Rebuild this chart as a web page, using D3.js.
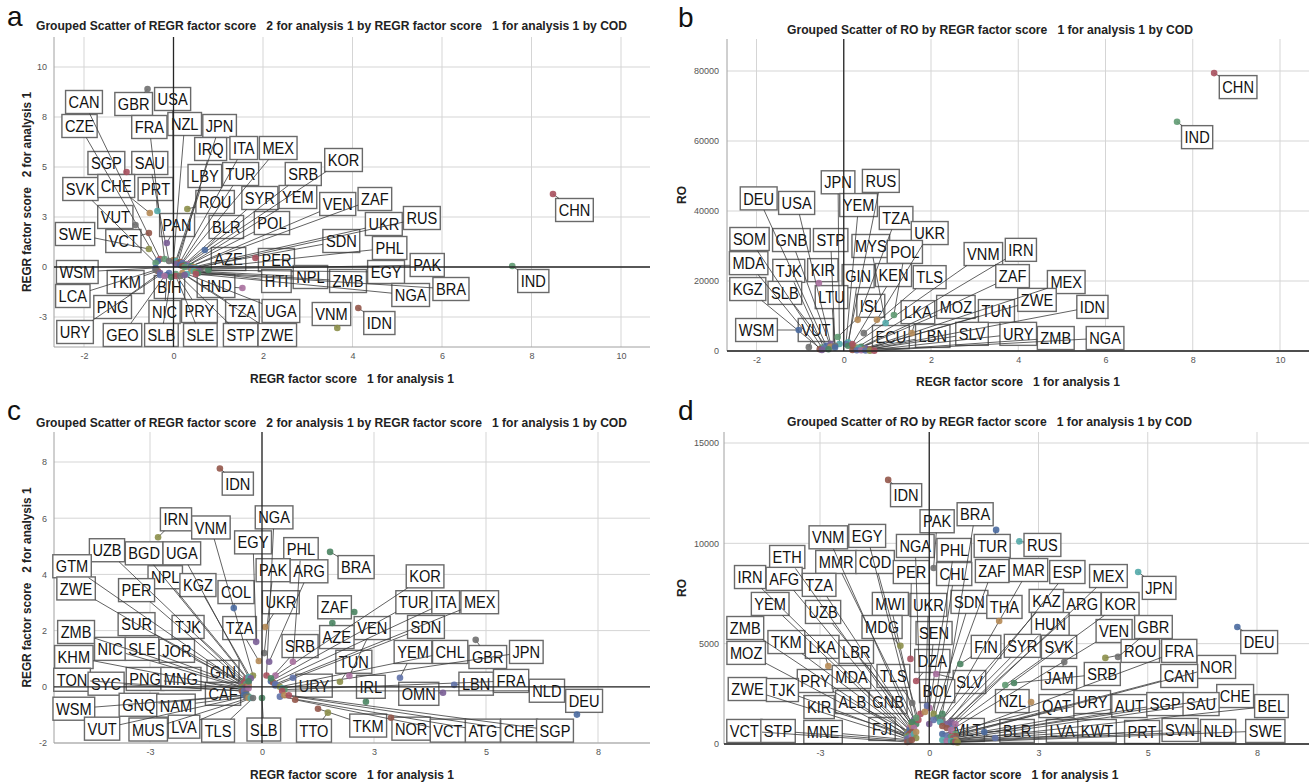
<!DOCTYPE html>
<html>
<head>
<meta charset="utf-8">
<script src="https://cdn.jsdelivr.net/npm/d3@7"></script>
<style>
body { margin: 0; background: #fff; }
svg { display: block; font-family: "Liberation Sans", Arial, sans-serif; }
</style>
</head>
<body>
<svg id="chart" width="1312" height="783"></svg>
<script>

// Titles

var titleFactor = 'Grouped Scatter of REGR factor score   2 for analysis 1 by REGR factor score   1 for analysis 1 by COD';
var titleRO = 'Grouped Scatter of RO by REGR factor score   1 for analysis 1 by COD';
var xTitle = 'REGR factor score   1 for analysis 1';
var yTitleFactor = 'REGR factor score   2 for analysis 1';
var yTitleRO = 'RO';

// Ticks

var xTicksA = [-2, 0, 2, 4, 6, 8, 10];
var xTickTextA = ['-2', '0', '2', '4', '6', '8', '10'];
var yTicksA = [-2.5, 0, 2.5, 5, 7.5, 10];
var yTickTextA = ['-3', '0', '3', '5', '8', '10'];

var xTicksB = [-2, 0, 2, 4, 6, 8, 10];
var xTickTextB = ['-2', '0', '2', '4', '6', '8', '10'];
var yTicksB = [0, 20000, 40000, 60000, 80000];
var yTickTextB = ['0', '20000', '40000', '60000', '80000'];

var xTicksC = [-2.5, 0, 2.5, 5, 7.5];
var xTickTextC = ['-3', '0', '3', '5', '8'];
var yTicksC = [-2, 0, 2, 4, 6, 8];
var yTickTextC = ['-2', '0', '2', '4', '6', '8'];

var xTicksD = [-2.5, 0, 2.5, 5, 7.5];
var xTickTextD = ['-3', '0', '3', '5', '8'];
var yTicksD = [0, 5000, 10000, 15000];
var yTickTextD = ['0', '5000', '10000', '15000'];

// Panel a: COD, factor score 1, factor score 2

var ptsA = [
	['CAN',-0.3,0.4],['GBR',-0.58,8.9],['USA',0.0,0.3],['CZE',-0.35,0.3],['FRA',-0.2,0.4],
	['NZL',0.0,0.35],['JPN',0.05,0.3],['IRQ',0.1,0.2],['ITA',0.15,0.25],['MEX',0.2,0.2],
	['KOR',0.3,0.15],['SRB',0.25,0.1],['SGP',-1.05,4.75],['SAU',-0.1,0.3],['LBY',0.05,0.15],
	['TUR',0.15,0.1],['SVK',-0.4,0.2],['CHE',-0.53,2.7],['PRT',-0.36,2.8],['ROU',0.31,2.9],
	['SYR',0.2,0.05],['YEM',0.3,0.05],['VEN',0.35,0.0],['ZAF',0.4,0.05],['CHN',8.48,3.65],
	['VUT',-0.85,2.1],['PAN',-0.15,1.2],['BLR',0.7,0.85],['POL',0.25,0.0],['UKR',0.45,0.0],
	['RUS',0.5,-0.05],['SWE',-0.55,0.9],['VCT',-0.55,1.7],['SDN',0.4,-0.05],['PHL',0.5,-0.1],
	['AZE',0.78,-0.15],['PER',1.83,0.45],['PAK',0.6,-0.1],['EGY',0.55,-0.15],['WSM',-0.4,-0.05],
	['IND',7.57,0.05],['HTI',0.4,-0.2],['NPL',0.45,-0.2],['ZMB',0.5,-0.25],['TKM',-0.35,-0.2],
	['BIH',-0.1,-0.3],['HND',1.54,-1.05],['BRA',0.55,-0.3],['NGA',0.5,-0.35],['LCA',-0.4,-0.15],
	['PNG',-0.3,-0.3],['NIC',-0.15,-0.4],['PRY',0.05,-0.35],['TZA',0.2,-0.3],['UGA',0.3,-0.35],
	['VNM',3.66,-3.05],['IDN',4.13,-2.05],['URY',-0.3,-0.4],['GEO',-0.2,-0.45],['SLB',-0.05,-0.5],
	['SLE',0.05,-0.45],['STP',0.15,-0.45],['ZWE',0.25,-0.4]
];

// where each label box sits (data units)
var labA = [
	['CAN',-2.0,8.25],['GBR',-0.89,8.15],['USA',-0.02,8.4],['CZE',-2.1,7.05],['FRA',-0.54,7.0],
	['NZL',0.25,7.15],['JPN',1.03,7.05],['IRQ',0.83,5.9],['ITA',1.57,5.95],['MEX',2.34,5.95],
	['KOR',3.8,5.35],['SRB',2.9,4.65],['SGP',-1.5,5.2],['SAU',-0.53,5.2],['LBY',0.7,4.55],
	['TUR',1.5,4.65],['SVK',-2.08,3.9],['CHE',-1.28,4.05],['PRT',-0.4,3.9],['ROU',0.93,3.25],
	['SYR',1.93,3.45],['YEM',2.78,3.5],['VEN',3.67,3.15],['ZAF',4.5,3.4],['CHN',8.96,2.85],
	['VUT',-1.3,2.5],['PAN',0.08,2.1],['BLR',1.18,2.0],['POL',2.2,2.2],['UKR',4.7,2.15],
	['RUS',5.55,2.45],['SWE',-2.2,1.65],['VCT',-1.12,1.3],['SDN',3.75,1.3],['PHL',4.83,0.95],
	['AZE',1.23,0.4],['PER',2.3,0.35],['PAK',5.67,0.1],['EGY',4.75,-0.25],['WSM',-2.15,-0.25],
	['IND',8.04,-0.7],['HTI',2.3,-0.7],['NPL',3.06,-0.5],['ZMB',3.9,-0.7],['TKM',-1.07,-0.75],
	['BIH',-0.09,-1.0],['HND',0.95,-0.95],['BRA',6.2,-1.1],['NGA',5.3,-1.4],['LCA',-2.25,-1.45],
	['PNG',-1.36,-2.0],['NIC',-0.2,-2.25],['PRY',0.58,-2.2],['TZA',1.54,-2.2],['UGA',2.4,-2.2],
	['VNM',3.53,-2.35],['IDN',4.6,-2.8],['URY',-2.2,-3.25],['GEO',-1.14,-3.4],['SLB',-0.27,-3.4],
	['SLE',0.6,-3.4],['STP',1.5,-3.4],['ZWE',2.32,-3.4]
];

// Panel b: COD, factor score 1, RO

var ptsB = [
	['CHN',8.49,79400],['IND',7.64,65500],['JPN',-0.1,2000],['RUS',0.1,2500],['DEU',-0.4,1500],
	['USA',-0.3,2000],['YEM',0.05,2000],['TZA',0.32,8900],['UKR',0.76,8900],['SOM',-0.5,1000],
	['GNB',-0.3,1200],['STP',-0.2,1500],['MYS',0.96,8000],['POL',1.15,10300],['VNM',0.2,1500],
	['IRN',0.3,1000],['MDA',-0.55,500],['TJK',-0.45,800],['KIR',-0.57,19400],['GIN',0.1,1500],
	['KEN',0.2,2000],['TLS',0.46,5100],['ZAF',0.4,1200],['MEX',0.5,800],['KGZ',-0.5,300],
	['SLB',-0.35,500],['LTU',-0.2,1000],['ZWE',0.5,600],['IDN',0.6,500],['ISL',-0.14,4000],
	['LKA',1.56,5100],['MOZ',0.35,800],['TUN',0.45,400],['WSM',-1.03,6000],['VUT',-0.8,1100],
	['ECU',0.2,300],['LBN',0.3,200],['SLV',0.4,200],['URY',0.5,150],['ZMB',0.6,100],['NGA',0.7,100]
];

var labB = [
	['CHN',9.04,75400],['IND',8.1,61100],['JPN',-0.13,48200],['RUS',0.85,48600],['DEU',-1.95,43600],
	['USA',-1.08,42300],['YEM',0.34,41700],['TZA',1.2,38000],['UKR',1.97,33700],['SOM',-2.16,32000],
	['GNB',-1.2,31700],['STP',-0.3,31700],['MYS',0.62,30000],['POL',1.4,28300],['VNM',3.2,27700],
	['IRN',4.06,28900],['MDA',-2.18,25100],['TJK',-1.26,22900],['KIR',-0.48,23100],['GIN',0.33,21400],
	['KEN',1.14,21700],['TLS',1.97,21100],['ZAF',3.87,21400],['MEX',5.1,19700],['KGZ',-2.2,17700],
	['SLB',-1.35,16600],['LTU',-0.28,15400],['ZWE',4.43,14600],['IDN',5.7,12600],['ISL',0.62,12900],
	['LKA',1.7,11100],['MOZ',2.57,12600],['TUN',3.5,11400],['WSM',-2.0,6000],['VUT',-0.64,6000],
	['ECU',1.08,4000],['LBN',2.04,4300],['SLV',2.94,4900],['URY',4.0,4900],['ZMB',4.86,3700],['NGA',5.99,3700]
];

// Panel c: COD, factor score 1, factor score 2

var ptsC = [
	['IDN',-0.94,7.77],['IRN',-2.32,5.32],['VNM',-0.2,0.4],['NGA',0.1,0.4],['EGY',-0.13,1.6],
	['UZB',-0.4,0.2],['BGD',-0.35,0.3],['UGA',-0.3,0.35],['PHL',0.69,0.89],['BRA',1.52,4.8],
	['GTM',-0.45,0.1],['PAK',0.05,1.2],['ARG',0.16,0.89],['KOR',0.3,0.4],['NPL',-0.3,0.25],
	['KGZ',-0.25,0.3],['ZWE',-0.45,0.05],['PER',-0.4,0.15],['COL',-0.63,2.8],['UKR',0.07,2.13],
	['ZAF',2.06,2.66],['TUR',0.2,0.2],['ITA',0.25,0.15],['MEX',0.3,0.1],['SUR',-0.35,0.1],
	['TJK',-0.3,0.15],['TZA',-0.07,0.92],['ZMB',-0.45,0.0],['VEN',1.95,0.39],['SDN',0.3,0.05],
	['AZE',1.57,2.27],['SRB',0.2,0.3],['NIC',-0.4,-0.05],['SLE',-0.35,0.0],['JOR',-0.3,0.05],
	['KHM',-0.45,-0.1],['YEM',3.08,0.32],['CHL',0.4,0.0],['GBR',4.77,1.67],['JPN',0.45,-0.05],
	['TUN',1.74,0.18],['GIN',-0.3,0.2],['TON',-0.45,-0.15],['SYC',-0.4,-0.15],['PNG',-0.35,-0.1],
	['MNG',-0.3,-0.05],['URY',0.69,0.32],['IRL',2.32,-0.53],['LBN',4.29,0.07],['FRA',0.5,-0.1],
	['NLD',0.45,-0.15],['CAF',-0.35,-0.25],['OMN',4.04,-0.21],['DEU',7.03,-0.99],['WSM',-0.4,-0.3],
	['GNQ',-0.35,-0.3],['NAM',-0.3,-0.35],['VUT',-0.35,-0.35],['MUS',-0.3,-0.4],['LVA',-0.25,-0.4],
	['TLS',-0.2,-0.4],['SLB',0.0,-0.4],['TTO',1.47,-0.92],['TKM',1.25,-0.78],['NOR',2.88,-1.1],
	['VCT',0.74,-0.46],['ATG',0.4,-0.35],['CHE',0.5,-0.3],['SGP',0.6,-0.3]
];

var labC = [
	['IDN',-0.54,7.23],['IRN',-1.92,5.96],['VNM',-1.14,5.67],['NGA',0.27,6.03],['EGY',-0.2,5.14],
	['UZB',-3.46,4.86],['BGD',-2.63,4.75],['UGA',-1.79,4.75],['PHL',0.87,4.9],['BRA',2.1,4.26],
	['GTM',-4.24,4.29],['PAK',0.25,4.15],['ARG',1.05,4.11],['KOR',3.64,3.93],['NPL',-2.16,3.9],
	['KGZ',-1.43,3.62],['ZWE',-4.15,3.5],['PER',-2.8,3.44],['COL',-0.58,3.37],['UKR',0.42,3.01],
	['ZAF',1.62,2.83],['TUR',3.39,3.01],['ITA',4.1,3.01],['MEX',4.86,3.01],['SUR',-2.8,2.23],
	['TJK',-1.65,2.13],['TZA',-0.5,2.09],['ZMB',-4.15,1.95],['VEN',2.46,2.09],['SDN',3.66,2.13],
	['AZE',1.67,1.77],['SRB',0.85,1.45],['NIC',-3.39,1.35],['SLE',-2.68,1.35],['JOR',-1.9,1.28],
	['KHM',-4.2,1.06],['YEM',3.37,1.24],['CHL',4.2,1.24],['GBR',5.04,1.06],['JPN',5.9,1.24],
	['TUN',2.05,0.89],['GIN',-0.87,0.53],['TON',-4.24,0.25],['SYC',-3.48,0.11],['PNG',-2.61,0.28],
	['MNG',-1.81,0.28],['URY',1.16,0.04],['IRL',2.43,0.0],['LBN',4.78,0.11],['FRA',5.56,0.21],
	['NLD',6.36,-0.14],['CAF',-0.87,-0.25],['OMN',3.5,-0.25],['DEU',7.19,-0.5],['WSM',-4.2,-0.78],
	['GNQ',-2.75,-0.64],['NAM',-1.92,-0.67],['VUT',-3.57,-1.49],['MUS',-2.54,-1.52],['LVA',-1.74,-1.42],
	['TLS',-0.98,-1.56],['SLB',0.04,-1.52],['TTO',1.16,-1.56],['TKM',2.37,-1.38],['NOR',3.33,-1.49],
	['VCT',4.15,-1.56],['ATG',4.93,-1.56],['CHE',5.74,-1.56],['SGP',6.54,-1.56]
];

// Panel d: COD, factor score 1, RO

var ptsD = [
	['IDN',-0.94,13160],['PAK',0.1,8770],['BRA',0.3,1500],['TUR',1.53,10670],['RUS',2.06,10100],
	['VNM',-0.4,1000],['EGY',-0.35,1200],['NGA',-0.2,1500],['PHL',0.0,1800],['ETH',-0.45,800],
	['MMR',-0.3,1000],['COD',-0.25,1200],['PER',-0.43,4240],['CHL',0.1,1500],['ZAF',0.2,1300],
	['MAR',0.3,1200],['ESP',0.4,1000],['MEX',0.5,900],['JPN',4.78,8570],['IRN',-0.5,600],
	['AFG',-0.45,700],['TZA',-0.4,900],['YEM',-0.5,500],['MWI',-0.3,1300],['UKR',-0.1,1600],
	['SDN',0.1,1200],['THA',1.6,6130],['KAZ',0.25,1100],['ARG',0.5,1100],['KOR',0.6,1000],
	['UZB',-0.4,1100],['ZMB',-0.5,400],['MDG',-0.66,4890],['HUN',0.4,800],['GBR',4.32,4340],
	['VEN',0.5,700],['SEN',-0.05,1900],['DEU',7.05,5830],['TKM',-0.45,500],['LKA',-2.31,3890],
	['LBR',-0.35,800],['MOZ',-0.5,300],['FIN',0.71,3990],['SYR',0.3,900],['SVK',1.74,2940],
	['ROU',4.03,4290],['FRA',0.6,500],['DZA',-0.3,3140],['NOR',0.6,400],['CAN',0.5,400],
	['SRB',1.94,3040],['JAM',3.09,4090],['PRY',-0.45,400],['MDA',-0.4,600],['TLS',-0.39,2040],
	['SLV',0.16,3490],['BOL',0.0,1000],['ZWE',-0.5,250],['TJK',-0.45,300],['CHE',0.5,300],
	['NZL',2.33,2090],['QAT',0.3,500],['URY',0.4,400],['AUT',0.5,350],['SGP',0.55,300],
	['SAU',0.6,250],['BEL',0.6,200],['KIR',-0.4,400],['ALB',-0.35,500],['GNB',-0.3,600],
	['FJI',-0.3,300],['VCT',-0.5,100],['STP',-0.45,150],['MNE',-0.4,200],['MLT',1.51,300],
	['BLR',1.26,600],['LVA',0.3,200],['KWT',0.4,150],['PRT',0.5,150],['SVN',0.55,100],
	['NLD',0.6,100],['SWE',0.65,80]
];

var labD = [
	['IDN',-0.53,12400],['PAK',0.18,11100],['BRA',1.05,11450],['TUR',1.44,9870],['RUS',2.59,9920],
	['VNM',-2.31,10300],['EGY',-1.42,10370],['NGA',-0.32,9870],['PHL',0.57,9670],['ETH',-3.25,9320],
	['MMR',-2.13,9070],['COD',-1.24,9070],['PER',-0.41,8570],['CHL',0.57,8470],['ZAF',1.44,8620],
	['MAR',2.27,8670],['ESP',3.16,8570],['MEX',4.1,8370],['JPN',5.26,7780],['IRN',-4.1,8320],
	['AFG',-3.32,8230],['TZA',-2.52,7930],['YEM',-3.64,6980],['MWI',-0.89,6980],['UKR',-0.02,6930],
	['SDN',0.92,7080],['THA',1.72,6830],['KAZ',2.68,7130],['ARG',3.5,6980],['KOR',4.37,6980],
	['UZB',-2.43,6580],['ZMB',-4.21,5780],['MDG',-1.08,5830],['HUN',2.77,5980],['GBR',5.13,5830],
	['VEN',4.23,5630],['SEN',0.11,5530],['DEU',7.55,5080],['TKM',-3.27,5080],['LKA',-2.45,4840],
	['LBR',-1.67,4590],['MOZ',-4.19,4540],['FIN',1.3,4840],['SYR',2.13,4890],['SVK',2.97,4840],
	['ROU',4.83,4640],['FRA',5.72,4640],['DZA',0.07,4140],['NOR',6.57,3840],['CAN',5.72,3390],
	['SRB',3.96,3490],['JAM',2.97,3290],['PRY',-2.61,3140],['MDA',-1.78,3340],['TLS',-0.82,3390],
	['SLV',0.92,3090],['BOL',0.18,2640],['ZWE',-4.16,2740],['TJK',-3.36,2690],['CHE',7.0,2390],
	['NZL',1.9,2140],['QAT',2.91,1890],['URY',3.73,2090],['AUT',4.58,1890],['SGP',5.4,1990],
	['SAU',6.22,1990],['BEL',7.83,1890],['KIR',-2.52,1840],['ALB',-1.76,2090],['GNB',-0.94,2090],
	['FJI',-1.08,750],['VCT',-4.23,650],['STP',-3.46,650],['MNE',-2.43,600],['MLT',0.87,700],
	['BLR',2.01,650],['LVA',3.04,650],['KWT',3.84,650],['PRT',4.87,600],['SVN',5.74,700],
	['NLD',6.61,650],['SWE',7.69,650]
];

// colours for the COD groups (muted, like the SPSS output)
var codPalette = ['#a8505e', '#707070', '#7a5e96', '#4a6aa0', '#5f9a72', '#b58a55',
	'#52a9a8', '#8c8f4a', '#94574a', '#6072aa', '#a8709f', '#4a8462'];
var codColor = d3.scaleOrdinal(codPalette);

// panel layout

var panels = [
	{ letter: 'a', pts: ptsA, labs: labA,
	  xAnchor: [-2, 10], xPix: [84, 621], yAnchor: [-2.5, 10], yPix: [317, 67],
	  left: 54, right: 650, top: 37, bottom: 347,
	  xTicks: xTicksA, xText: xTickTextA, yTicks: yTicksA, yText: yTickTextA,
	  title: titleFactor, titleX: 36, titleW: 591, titleY: 30, letterX: 7, letterY: 26,
	  yTitle: yTitleFactor, yTitleX: 31, yTitleW: 200, yTickRight: 47,
	  xTitleY: 383 },
	{ letter: 'b', pts: ptsB, labs: labB,
	  xAnchor: [-2, 10], xPix: [756.5, 1280], yAnchor: [0, 80000], yPix: [351, 71],
	  left: 727, right: 1309, top: 39, bottom: 351,
	  xTicks: xTicksB, xText: xTickTextB, yTicks: yTicksB, yText: yTickTextB,
	  title: titleRO, titleX: 787, titleW: 406, titleY: 34, letterX: 678, letterY: 27,
	  yTitle: yTitleRO, yTitleX: 686, yTitleW: 0, yTickRight: 719,
	  xTitleY: 386 },
	{ letter: 'c', pts: ptsC, labs: labC,
	  xAnchor: [-2.5, 7.5], xPix: [150, 598], yAnchor: [-2, 8], yPix: [743, 462],
	  left: 54, right: 650, top: 432, bottom: 743,
	  xTicks: xTicksC, xText: xTickTextC, yTicks: yTicksC, yText: yTickTextC,
	  title: titleFactor, titleX: 36, titleW: 591, titleY: 427, letterX: 7, letterY: 420,
	  yTitle: yTitleFactor, yTitleX: 31, yTitleW: 200, yTickRight: 47,
	  xTitleY: 779 },
	{ letter: 'd', pts: ptsD, labs: labD,
	  xAnchor: [-2.5, 7.5], xPix: [820, 1257], yAnchor: [0, 15000], yPix: [744, 443],
	  left: 724, right: 1309, top: 432, bottom: 744,
	  xTicks: xTicksD, xText: xTickTextD, yTicks: yTicksD, yText: yTickTextD,
	  title: titleRO, titleX: 787, titleW: 405, titleY: 426, letterX: 678, letterY: 420,
	  yTitle: yTitleRO, yTitleX: 686, yTitleW: 0, yTickRight: 719,
	  xTitleY: 779 }
];

var svg = d3.select('#chart');
var labelScale = 0.86;
var boxH = 23;

panels.forEach(function(p) {

	var x = d3.scaleLinear().domain(p.xAnchor).range(p.xPix);
	var y = d3.scaleLinear().domain(p.yAnchor).range(p.yPix);
	var g = svg.append('g');

	// grid lines
	g.selectAll('.gx').data(p.xTicks).enter().append('line')
		.attr('x1', function(d){ return x(d); })
		.attr('x2', function(d){ return x(d); })
		.attr('y1', p.top).attr('y2', p.bottom)
		.attr('stroke', '#d5d5d5').attr('stroke-width', 1);

	g.selectAll('.gy').data(p.yTicks).enter().append('line')
		.attr('x1', p.left).attr('x2', p.right)
		.attr('y1', function(d){ return y(d); })
		.attr('y2', function(d){ return y(d); })
		.attr('stroke', '#d5d5d5').attr('stroke-width', 1);

	// axis frame
	g.append('line').attr('x1', p.left).attr('x2', p.left).attr('y1', p.top).attr('y2', p.bottom)
		.attr('stroke', '#a0a0a0');
	g.append('line').attr('x1', p.left).attr('x2', p.right).attr('y1', p.bottom).attr('y2', p.bottom)
		.attr('stroke', '#a0a0a0');

	// label boxes
	var labs = g.selectAll('.lab').data(p.labs).enter().append('g')
		.attr('class', 'lab')
		.attr('transform', function(d){ return 'translate(' + x(d[1]) + ',' + y(d[2]) + ')'; });

	labs.append('rect')
		.attr('fill', '#fff')
		.attr('stroke', '#6a6a6a')
		.attr('stroke-width', 1.4);

	labs.append('text')
		.attr('text-anchor', 'middle')
		.attr('dy', '0.36em')
		.attr('transform', 'scale(' + labelScale + ',1)')
		.style('font-size', '17px')
		.attr('fill', '#111')
		.text(function(d){ return d[0]; });

	var boxW = {};
	labs.each(function(d) {
		var w = d3.select(this).select('text').node().getComputedTextLength() * labelScale + 6;
		boxW[d[0]] = w;
		d3.select(this).select('rect')
			.attr('x', -w / 2).attr('y', -boxH / 2)
			.attr('width', w).attr('height', boxH);
	});

	// leader lines, from each point to the edge of its box
	var labIndex = {};
	p.labs.forEach(function(l){ labIndex[l[0]] = l; });

	p.pts.forEach(function(pt) {
		var l = labIndex[pt[0]];
		if (!l) return;
		var cx = x(l[1]), cy = y(l[2]);
		var px = x(pt[1]), py = y(pt[2]);
		var dx = px - cx, dy = py - cy;
		var hw = boxW[pt[0]] / 2, hh = boxH / 2;
		var t = Math.min(dx === 0 ? Infinity : hw / Math.abs(dx), dy === 0 ? Infinity : hh / Math.abs(dy));
		if (t >= 1) return;
		g.append('line')
			.attr('x1', cx + dx * t).attr('y1', cy + dy * t)
			.attr('x2', px).attr('y2', py)
			.attr('stroke', '#3a3a3a').attr('stroke-width', 0.8);
	});

	// points
	g.selectAll('.pt').data(p.pts).enter().append('circle')
		.attr('cx', function(d){ return x(d[1]); })
		.attr('cy', function(d){ return y(d[2]); })
		.attr('r', 3.3)
		.attr('fill', function(d){ return codColor(d[0]); })
		.attr('opacity', 0.9);

	// reference lines at zero
	g.append('line').attr('x1', x(0)).attr('x2', x(0)).attr('y1', p.top).attr('y2', p.bottom)
		.attr('stroke', '#262626').attr('stroke-width', 1.3);
	g.append('line').attr('x1', p.left).attr('x2', p.right).attr('y1', y(0)).attr('y2', y(0))
		.attr('stroke', '#262626').attr('stroke-width', 1.3);

	// tick labels
	var xAxis = d3.axisBottom(x).tickValues(p.xTicks)
		.tickFormat(function(d, i){ return p.xText[i]; })
		.tickSize(0).tickPadding(6);
	var xa = g.append('g').attr('transform', 'translate(0,' + p.bottom + ')').call(xAxis);
	xa.select('.domain').remove();
	xa.selectAll('text').style('font-size', '9px').attr('fill', '#555');

	var yAxis = d3.axisLeft(y).tickValues(p.yTicks)
		.tickFormat(function(d, i){ return p.yText[i]; })
		.tickSize(0).tickPadding(p.left - p.yTickRight);
	var ya = g.append('g').attr('transform', 'translate(' + p.left + ',0)').call(yAxis);
	ya.select('.domain').remove();
	ya.selectAll('text').style('font-size', '9px').attr('fill', '#555');

	// titles
	svg.append('text')
		.attr('x', p.letterX).attr('y', p.letterY)
		.style('font-size', '28px')
		.attr('fill', '#111')
		.text(p.letter);

	svg.append('text')
		.attr('x', p.titleX).attr('y', p.titleY)
		.style('font-size', '12px').style('font-weight', 'bold').style('white-space', 'pre')
		.attr('textLength', p.titleW).attr('lengthAdjust', 'spacingAndGlyphs')
		.attr('fill', '#222')
		.text(p.title);

	svg.append('text')
		.attr('x', (p.left + p.right) / 2).attr('y', p.xTitleY)
		.attr('text-anchor', 'middle')
		.style('font-size', '12px').style('font-weight', 'bold').style('white-space', 'pre')
		.attr('textLength', 204).attr('lengthAdjust', 'spacingAndGlyphs')
		.attr('fill', '#222')
		.text(xTitle);

	var yt = svg.append('text')
		.attr('transform', 'translate(' + p.yTitleX + ',' + ((p.top + p.bottom) / 2) + ') rotate(-90)')
		.attr('text-anchor', 'middle')
		.style('font-size', '12px').style('font-weight', 'bold').style('white-space', 'pre')
		.attr('fill', '#222')
		.text(p.yTitle);
	if (p.yTitleW) yt.attr('textLength', p.yTitleW).attr('lengthAdjust', 'spacingAndGlyphs');
});

</script>
</body>
</html>
